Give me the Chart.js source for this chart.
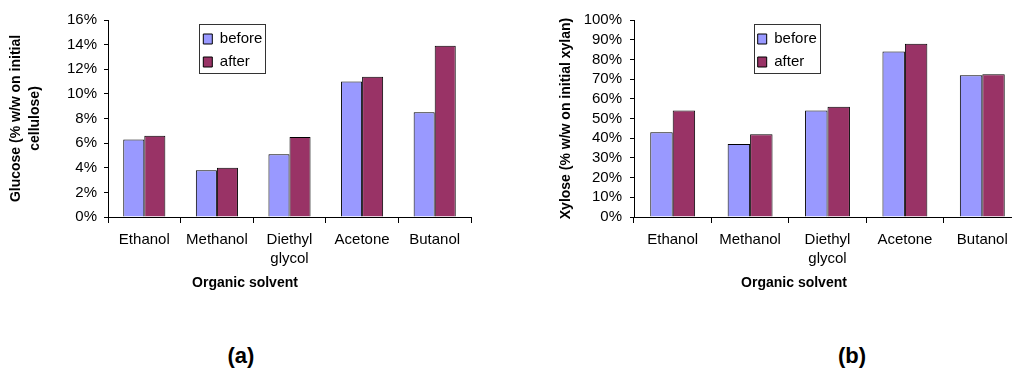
<!DOCTYPE html>
<html>
<head>
<meta charset="utf-8">
<script src="https://cdn.jsdelivr.net/npm/chart.js@4.4.1/dist/chart.umd.min.js"></script>
<style>
  html, body { margin: 0; padding: 0; background: #fff; }
  body { width: 1012px; height: 372px; overflow: hidden; position: relative;
         font-family: "Liberation Sans", Arial, sans-serif; }
  .panel { position: absolute; top: 0; }
  .cap { position: absolute; text-align: center; color: #000; font-weight: bold; white-space: nowrap; }
  .axis-cap { font-size: 14px; line-height: 16px; width: 200px; top: 274px; }
  .tag { font-size: 22px; line-height: 26px; width: 60px; top: 343px; }
</style>
</head>
<body>
<canvas id="glucoseChart" class="panel" width="490" height="300" style="left:0"></canvas>
<canvas id="xyloseChart" class="panel" width="482" height="300" style="left:540px"></canvas>
<div class="cap axis-cap" style="left:145px">Organic solvent</div>
<div class="cap axis-cap" style="left:694px">Organic solvent</div>
<div class="cap tag" style="left:211px">(a)</div>
<div class="cap tag" style="left:822px">(b)</div>

<script>
const FONT = '"Liberation Sans", Arial, sans-serif';

// Solvents on the x axis (two-line label for diethyl glycol)
const solvents = ['Ethanol', 'Methanol', ['Diethyl', 'glycol'], 'Acetone', 'Butanol'];
const seriesNames = ['before', 'after'];

// Glucose yield, % w/w on initial cellulose
const glucoseBefore = [6.3, 3.8, 5.1, 11.0, 8.5];
const glucoseAfter  = [6.6, 4.0, 6.5, 11.4, 13.9];

// Xylose yield, % w/w on initial xylan
const xyloseBefore = [43, 37, 54, 84, 72];
const xyloseAfter  = [54, 42, 56, 88, 72.5];

// Value axes: range and tick step (ticks are printed as percentages)
const glucoseTicks = { min: 0, max: 16, step: 2 };
const xyloseTicks  = { min: 0, max: 100, step: 10 };

const glucoseTitle = ['Glucose (% w/w on initial', 'cellulose)'];
const xyloseTitle  = 'Xylose (% w/w on initial xylan)';

const BEFORE_COLOR = '#9999FF';
const AFTER_COLOR  = '#993366';

// Puts the legend at a fixed spot inside the plot and frames it with a box
const placedLegend = {
  id: 'placedLegend',
  afterLayout(chart, args, opts) {
    const lg = chart.legend;
    if (!lg) return;
    const w = lg.width, h = lg.height;
    lg.left = opts.x; lg.top = opts.y;
    lg.right = opts.x + w; lg.bottom = opts.y + h;
  },
  afterDraw(chart, args, opts) {
    const lg = chart.legend;
    if (!lg) return;
    const ctx = chart.ctx;
    ctx.save();
    ctx.strokeStyle = '#333';
    ctx.lineWidth = 1;
    ctx.strokeRect(Math.round(lg.left + opts.frameDx) + 0.5, Math.round(lg.top + opts.frameDy) + 0.5,
                   opts.frameW, opts.frameH);
    ctx.restore();
  }
};

function buildChart(canvasId, before, after, range, yTitle, look) {
  const barStyle = { borderColor: '#000', borderWidth: 1, categoryPercentage: 0.58, barPercentage: 1 };
  return new Chart(document.getElementById(canvasId), {
    type: 'bar',
    data: {
      labels: solvents,
      datasets: [
        Object.assign({ label: seriesNames[0], data: before, backgroundColor: BEFORE_COLOR }, barStyle),
        Object.assign({ label: seriesNames[1], data: after, backgroundColor: AFTER_COLOR }, barStyle)
      ]
    },
    options: {
      responsive: false,
      animation: false,
      layout: { padding: look.padding },
      plugins: {
        tooltip: { enabled: false },
        legend: {
          position: 'chartArea',
          align: 'start',
          labels: {
            boxWidth: 9, boxHeight: 10, padding: 8, color: '#000',
            font: { family: FONT, size: 15 }
          }
        },
        placedLegend: { x: look.legendX, y: 23.5, frameDx: 4, frameDy: 0.8, frameW: 66, frameH: 49 }
      },
      scales: {
        x: {
          offset: true,
          grid: { display: true, offset: true, drawOnChartArea: false, drawTicks: true,
                  tickLength: 6, tickColor: '#000', color: '#000' },
          border: { display: true, color: '#000', width: 1 },
          ticks: { color: '#000', padding: 7, maxRotation: 0, autoSkip: false,
                   font: { family: FONT, size: 15, lineHeight: '19px' } },
          afterFit: s => { s.height = 63; }
        },
        y: {
          min: range.min,
          max: range.max,
          ticks: { stepSize: range.step, autoSkip: false, color: '#000', padding: look.tickPad,
                   font: { family: FONT, size: 15 },
                   callback: v => v + '%' },
          grid: { display: true, drawOnChartArea: false, drawTicks: true,
                  tickLength: 4, tickColor: '#000', color: '#000' },
          border: { display: true, color: '#000', width: 1 },
          title: { display: true, text: yTitle, color: '#000',
                   font: { family: FONT, size: 14, weight: 'bold', lineHeight: '19px' },
                   padding: { top: look.titlePad, bottom: 0 } },
          afterFit: s => { s.width = look.yWidth; }
        }
      }
    },
    plugins: [placedLegend]
  });
}

buildChart('glucoseChart', glucoseBefore, glucoseAfter, glucoseTicks, glucoseTitle, {
  padding: { top: 20, left: 0, right: 19, bottom: 20 },
  yWidth: 108, tickPad: 7, titlePad: 7, legendX: 195.3
});

buildChart('xyloseChart', xyloseBefore, xyloseAfter, xyloseTicks, xyloseTitle, {
  padding: { top: 20, left: 0, right: 1, bottom: 20 },
  yWidth: 94, tickPad: 8, titlePad: 17, legendX: 209.7
});
</script>
</body>
</html>
